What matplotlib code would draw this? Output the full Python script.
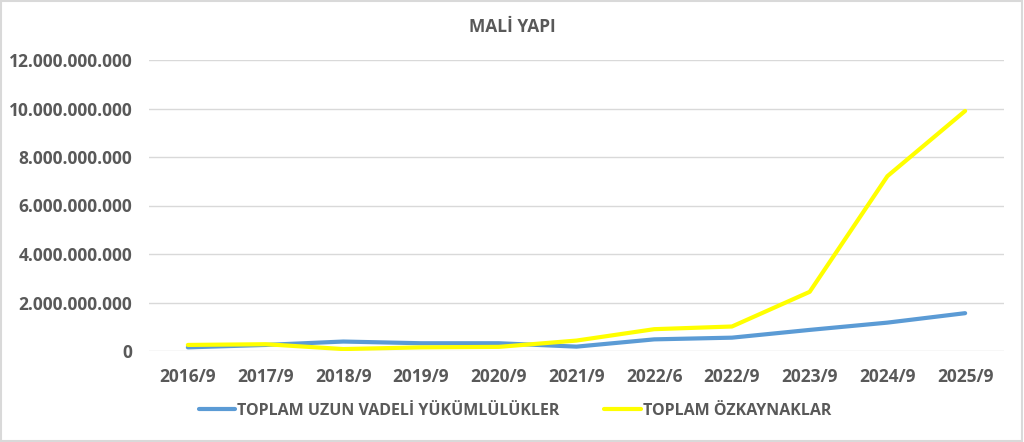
import numpy as np
import matplotlib.pyplot as plt
from matplotlib.patches import Rectangle
from matplotlib.ticker import FuncFormatter

periods = ['2016/9', '2017/9', '2018/9', '2019/9', '2020/9', '2021/9',
           '2022/6', '2022/9', '2023/9', '2024/9', '2025/9']
uzun_vadeli = [0.15e9, 0.25e9, 0.39e9, 0.32e9, 0.32e9, 0.18e9,
               0.48e9, 0.55e9, 0.87e9, 1.17e9, 1.56e9]
ozkaynaklar = [0.25e9, 0.28e9, 0.08e9, 0.15e9, 0.17e9, 0.43e9,
               0.90e9, 1.01e9, 2.44e9, 7.21e9, 9.90e9]
series_names = ['TOPLAM UZUN VADELİ YÜKÜMLÜLÜKLER', 'TOPLAM ÖZKAYNAKLAR']
y_ticks = np.arange(0, 12e9 + 1, 2e9)

plt.rcParams['font.family'] = ['Open Sans', 'DejaVu Sans']
txt = '#595959'

fig = plt.figure(figsize=(10.24, 4.42), dpi=100)
ax = fig.add_axes([149 / 1024, 1 - 351 / 442, (1004 - 149) / 1024, (351 - 60) / 442])

x = np.arange(len(periods))
ax.plot(x, uzun_vadeli, color='#5B9BD5', lw=3, solid_capstyle='round', label=series_names[0])
ax.plot(x, ozkaynaklar, color='#FFFF00', lw=3, solid_capstyle='round', label=series_names[1])

ax.set_xlim(-0.5, len(periods) - 0.5)
ax.set_ylim(0, 12e9)
ax.set_yticks(y_ticks)
ax.yaxis.set_major_formatter(FuncFormatter(lambda v, p: f'{int(v):,}'.replace(',', '.')))
ax.set_xticks(x)
ax.set_xticklabels(periods)
ax.grid(axis='y', color='#D9D9D9', lw=1)
ax.set_axisbelow(True)
for s in ax.spines.values():
    s.set_visible(False)
ax.tick_params(length=0, colors=txt, labelsize=12.5)
ax.tick_params(axis='y', pad=12)
ax.tick_params(axis='x', pad=12)
for lab in ax.get_xticklabels() + ax.get_yticklabels():
    lab.set_fontweight('bold')

fig.text(0.5, 1 - 27 / 442, 'MALİ YAPI', ha='center', va='center', fontsize=12.5,
         fontweight='bold', color=txt)

# legend below the axis, like the excel one
leg = fig.legend(loc='center', bbox_to_anchor=(0.503, 1 - 411 / 442), ncol=2, frameon=False,
                 handlelength=2.3, columnspacing=2.8, handletextpad=0.12,
                 prop={'weight': 'bold', 'size': 11.5})
for t in leg.get_texts():
    t.set_color(txt)

fig.patches.append(Rectangle((0.001, 0.002), 0.997, 0.995, transform=fig.transFigure,
                             fill=False, edgecolor='#D9D9D9', lw=1.5))

fig.savefig('out.png', dpi=100)
